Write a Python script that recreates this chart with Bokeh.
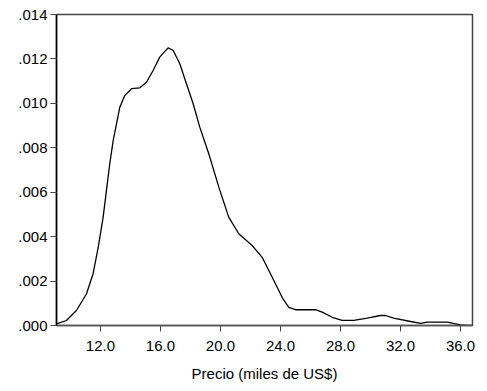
from bokeh.plotting import figure
from bokeh.models import Range1d, FixedTicker, PrintfTickFormatter, CustomJSTickFormatter
from bokeh.embed import file_html
from bokeh.resources import INLINE

# Kernel density of price (thousands of US$)
precio = [9.07, 9.73, 10.40, 11.07, 11.51, 11.85, 12.18, 12.40, 12.62, 12.85, 13.07,
          13.29, 13.62, 14.07, 14.62, 15.07, 15.51, 15.95, 16.51, 16.85, 17.29, 17.73,
          18.18, 18.62, 19.22, 19.89, 20.55, 21.22, 22.11, 22.78, 23.45, 24.11, 24.55,
          25.0, 26.33, 26.78, 27.45, 28.11, 28.89, 29.78, 30.67, 31.0, 31.55, 32.67,
          33.33, 33.78, 35.11, 36.0, 36.45, 36.8]
densidad = [0.000077, 0.000225, 0.000675, 0.00143, 0.00233, 0.00352, 0.00488, 0.00608,
            0.00728, 0.00833, 0.00908, 0.00983, 0.01035, 0.01066, 0.01070, 0.01095,
            0.01148, 0.01208, 0.01250, 0.01238, 0.01178, 0.01088, 0.00998, 0.00893,
            0.00773, 0.00623, 0.00488, 0.00413, 0.00360, 0.00307, 0.00217, 0.00127,
            0.00082, 0.00071, 0.00071, 0.00060, 0.00037, 0.00023, 0.00023, 0.00033,
            0.00045, 0.00045, 0.00033, 0.00018, 0.00010, 0.00015, 0.00015, 0.00003,
            0.0, 0.0]

x_ticks = [12.0, 16.0, 20.0, 24.0, 28.0, 32.0, 36.0]
y_ticks = [0.000, 0.002, 0.004, 0.006, 0.008, 0.010, 0.012, 0.014]

p = figure(width=485, height=389, output_backend="svg", toolbar_location=None,
           x_range=Range1d(9.07, 36.8), y_range=Range1d(0.0, 0.014),
           min_border_left=56, min_border_right=13, min_border_top=14, min_border_bottom=64)

p.line(precio, densidad, line_color="black", line_width=1.3, line_join="round")

p.xgrid.visible = False
p.ygrid.visible = False
p.outline_line_color = "#444444"
p.outline_line_width = 1.5

FONT = "Liberation Sans"
for ax in (p.xaxis[0], p.yaxis[0]):
    ax.major_label_text_font = FONT
    ax.major_label_text_font_size = "15px"
    ax.major_label_text_color = "black"
    ax.minor_tick_line_color = None
    ax.major_tick_out = 6
    ax.major_tick_in = 0
    ax.major_tick_line_color = "#444444"
    ax.axis_line_width = 1.5

p.xaxis.ticker = FixedTicker(ticks=x_ticks)
p.yaxis.ticker = FixedTicker(ticks=y_ticks)
p.xaxis.formatter = PrintfTickFormatter(format="%.1f")
p.yaxis.formatter = CustomJSTickFormatter(code="return tick.toFixed(3).replace(/^0/, '');")
p.xaxis.axis_line_color = "#555555"
p.yaxis.axis_line_color = "black"
p.xaxis.major_label_standoff = 9
p.yaxis.major_label_standoff = 3

p.xaxis.axis_label = "Precio (miles de US$)"
p.xaxis.axis_label_text_font = FONT
p.xaxis.axis_label_text_font_size = "15px"
p.xaxis.axis_label_text_font_style = "normal"
p.xaxis.axis_label_text_color = "black"
p.xaxis.axis_label_standoff = 11

open("out.html", "w").write(file_html(p, INLINE))
